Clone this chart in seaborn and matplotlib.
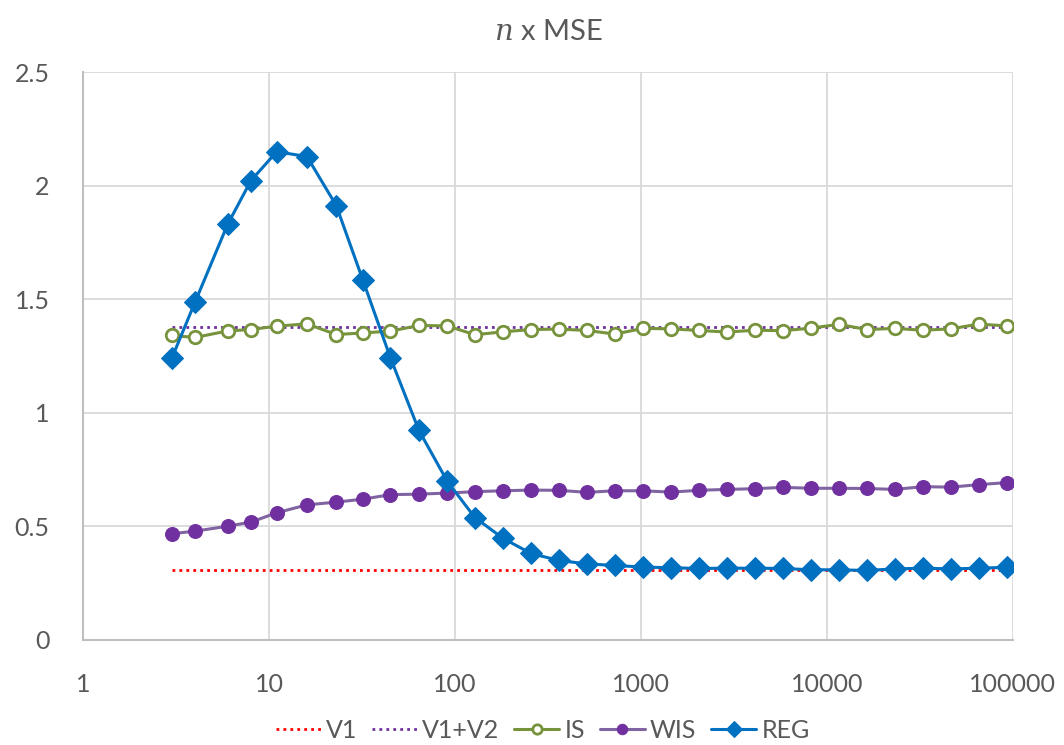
import numpy as np
import pandas as pd
import matplotlib
matplotlib.use("Agg")
import matplotlib.pyplot as plt
import matplotlib.ticker as mticker
import seaborn as sns

# sample sizes (powers of sqrt(2), rounded)
n = [3, 4, 6, 8, 11, 16, 23, 32, 45, 64, 91, 128, 181, 256, 362, 512, 724,
     1024, 1448, 2048, 2896, 4096, 5793, 8192, 11585, 16384, 23170, 32768,
     46341, 65536, 92682]

v1_level = 0.307
v1v2_level = 1.378

is_vals = [1.341, 1.332, 1.361, 1.367, 1.382, 1.392, 1.345, 1.352, 1.360, 1.385,
           1.383, 1.344, 1.357, 1.367, 1.369, 1.363, 1.347, 1.372, 1.370, 1.363,
           1.356, 1.364, 1.362, 1.373, 1.390, 1.367, 1.372, 1.364, 1.370, 1.391,
           1.383]

wis_vals = [0.468, 0.479, 0.501, 0.519, 0.560, 0.595, 0.607, 0.620, 0.640, 0.642,
            0.647, 0.653, 0.657, 0.660, 0.659, 0.650, 0.657, 0.657, 0.651, 0.659,
            0.663, 0.666, 0.672, 0.668, 0.668, 0.667, 0.663, 0.675, 0.673, 0.684,
            0.693]

reg_vals = [1.240, 1.487, 1.831, 2.023, 2.150, 2.129, 1.913, 1.584, 1.242, 0.923,
            0.698, 0.539, 0.448, 0.381, 0.350, 0.335, 0.328, 0.321, 0.318, 0.315,
            0.316, 0.316, 0.315, 0.309, 0.309, 0.306, 0.313, 0.316, 0.313, 0.316,
            0.320]

df = pd.DataFrame({
    "n": n,
    "V1": [v1_level] * len(n),
    "V1+V2": [v1v2_level] * len(n),
    "IS": is_vals,
    "WIS": wis_vals,
    "REG": reg_vals,
})

sns.set_style("white")
plt.rcParams["font.family"] = ["Lato", "DejaVu Sans"]
plt.rcParams["mathtext.fontset"] = "dejavuserif"

fig = plt.figure(figsize=(10.64, 7.45), dpi=100)
ax = fig.add_axes([0.078, 0.141, 0.874, 0.762])

sns.lineplot(data=df, x="n", y="V1", ax=ax, color="#FF0000", lw=2,
             linestyle=(0, (1, 1.5)), label="V1")
sns.lineplot(data=df, x="n", y="V1+V2", ax=ax, color="#7030A0", lw=2,
             linestyle=(0, (1, 1.5)), label="V1+V2")
sns.lineplot(data=df, x="n", y="IS", ax=ax, color="#77933C", lw=2.2,
             marker="o", ms=9, mfc="white", mec="#77933C", mew=2, label="IS")
sns.lineplot(data=df, x="n", y="WIS", ax=ax, color="#8064A2", lw=2.2,
             marker="o", ms=10, mfc="#7030A0", mec="#7030A0", label="WIS")
sns.lineplot(data=df, x="n", y="REG", ax=ax, color="#0070C0", lw=2.2,
             marker="D", ms=11, mfc="#0070C0", mec="#0070C0", label="REG")

ax.set_xscale("log")
ax.set_xlim(1, 100000)
ax.set_ylim(0, 2.5)
ax.set_xticks([1, 10, 100, 1000, 10000, 100000])
ax.xaxis.set_major_formatter(mticker.FuncFormatter(lambda v, p: f"{int(round(v))}"))
ax.xaxis.set_minor_locator(mticker.NullLocator())
ax.set_yticks([0, 0.5, 1, 1.5, 2, 2.5])
ax.set_yticklabels(["0", "0.5", "1", "1.5", "2", "2.5"])
ax.grid(True, color="#D9D9D9", lw=1.3)
ax.set_axisbelow(True)
ax.tick_params(length=0, labelsize=18, colors="#595959")
ax.tick_params(axis="y", pad=24)
ax.tick_params(axis="x", pad=24)
ax.set_xlabel("")
ax.set_ylabel("")
for s in ["top", "right"]:
    ax.spines[s].set_visible(False)
for s in ["left", "bottom"]:
    ax.spines[s].set_color("#BFBFBF")
    ax.spines[s].set_linewidth(1.5)

fig.suptitle(r"$n$ x MSE", x=0.515, y=0.975, fontsize=21, color="#595959")

handles, labels = ax.get_legend_handles_labels()
ax.get_legend().remove()
fig.legend(handles, labels, loc="center", bbox_to_anchor=(0.51, 0.02), ncol=5,
           frameon=False, fontsize=18, handlelength=1.8, handletextpad=0.2,
           columnspacing=0.6, markerscale=0.75, labelcolor="#595959")

plt.savefig("out.png", dpi=100)
